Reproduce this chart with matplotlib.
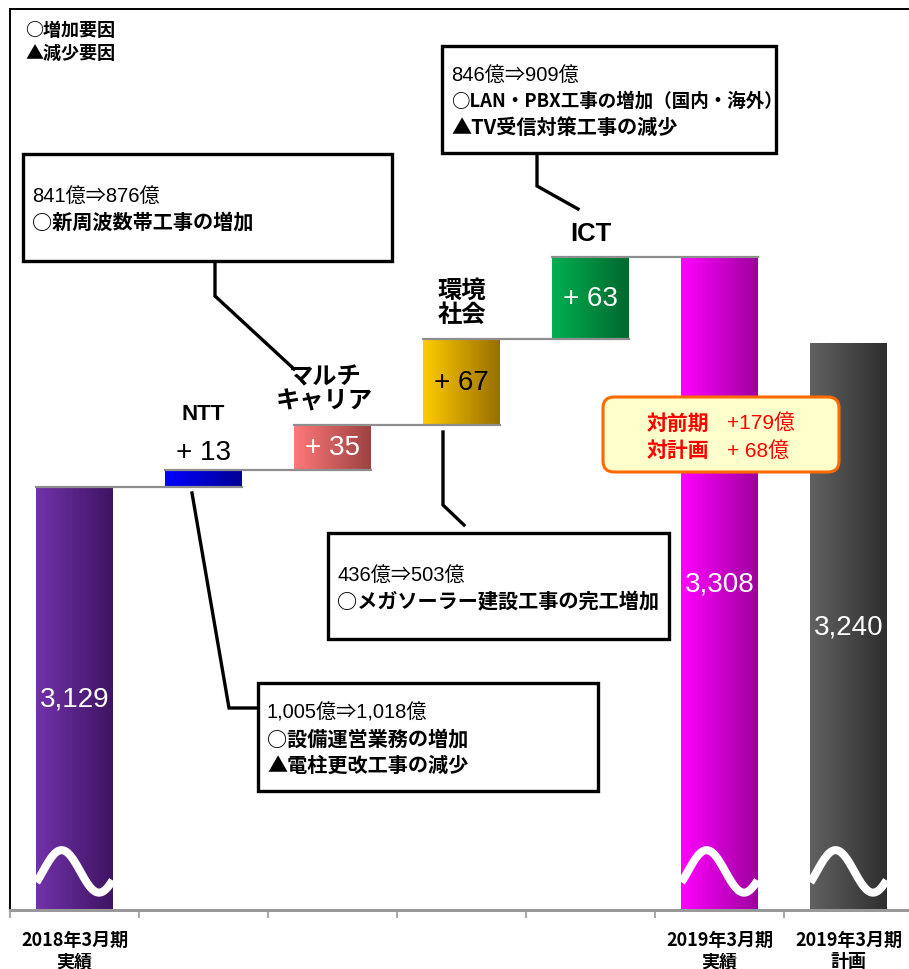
import numpy as np
import matplotlib
matplotlib.use('Agg')
import matplotlib.pyplot as plt
from matplotlib.colors import LinearSegmentedColormap
from matplotlib.patches import Rectangle, FancyBboxPatch
from matplotlib.transforms import blended_transform_factory

plt.rcParams['font.family'] = ['Noto Sans CJK JP', 'DejaVu Sans']

# 売上高の増減（億円）
start_label = ['2018年3月期', '実績']
result_label = ['2019年3月期', '実績']
plan_label = ['2019年3月期', '計画']
start_total = 3129
segment_names = ['NTT', 'マルチ\nキャリア', '環境\n社会', 'ICT']
segment_deltas = [13, 35, 67, 63]
result_total = 3308
plan_total = 3240
axis_floor = 2800
axis_ceiling = 3500

# 対前期・対計画
vs_prior = '+179億'
vs_plan = '+ 68億'

# セグメント別の説明
note_ntt = ['1,005億⇒1,018億', '○設備運営業務の増加', '▲電柱更改工事の減少']
note_multi = ['841億⇒876億', '○新周波数帯工事の増加']
note_env = ['436億⇒503億', '○メガソーラー建設工事の完工増加']
note_ict = ['846億⇒909億', '○LAN・PBX工事の増加（国内・海外）', '▲TV受信対策工事の減少']

# colours: (left, right) of the horizontal gradient
total_colors = [('#7232AA', '#3E1462'), ('#FF00FF', '#9E009E'), ('#616161', '#2E2E2E')]
segment_colors = [('#0000FF', '#000094'), ('#FF7878', '#9C4242'),
                  ('#FFCC00', '#986E00'), ('#00B050', '#00682E')]
segment_text_colors = ['black', 'white', 'black', 'white']
name_sizes = [16, 17.5, 17.5, 18.5]
name_shift = [0, -0.06, 0.0, 0]

BAR_W = 0.59
LATIN = ['Liberation Sans', 'Noto Sans CJK JP']
CJK = ['Noto Sans CJK JP', 'DejaVu Sans']

fig = plt.figure(figsize=(9.09, 9.70), dpi=100)
ax = fig.add_axes([10 / 909, 59 / 970, 903 / 909, 901 / 970])


def gradient_bar(x, y0, y1, colors):
    cmap = LinearSegmentedColormap.from_list('bar', list(colors))
    ax.imshow(np.linspace(0, 1, 256)[None, :], cmap=cmap, aspect='auto',
              interpolation='bilinear', zorder=2,
              extent=(x - BAR_W / 2, x + BAR_W / 2, y0, y1))


def break_mark(x):
    # white wave drawn across the truncated bottom of a total bar
    dx = np.linspace(-BAR_W / 2, BAR_W / 2, 120)
    wy = axis_floor + 30 + 16.5 * np.cos(2 * np.pi * (dx + 0.1) / 0.58)
    ax.plot(x + dx, wy, color='white', lw=5.8, solid_capstyle='butt', zorder=4)


# waterfall levels
levels = np.concatenate([[start_total], start_total + np.cumsum(segment_deltas)])

# totals
totals = [(0, start_total), (5, result_total), (6, plan_total)]
for (x, v), cols in zip(totals, total_colors):
    gradient_bar(x, axis_floor, v, cols)
    break_mark(x)
    ax.text(x, (axis_floor + v) / 2, f'{v:,}', color='white', fontsize=20,
            family=LATIN, ha='center', va='center', zorder=5)

# floating segments
for i, (name, d) in enumerate(zip(segment_names, segment_deltas)):
    x = i + 1
    y0, y1 = levels[i], levels[i + 1]
    gradient_bar(x, y0, y1, segment_colors[i])
    label = f'+ {d}'
    if d < 20:
        ax.text(x, y1 + 14, label, color='black', fontsize=20, family=LATIN,
                ha='center', va='center', zorder=5)
        name_gap = 33
    else:
        ax.text(x, (y0 + y1) / 2, label, color=segment_text_colors[i],
                fontsize=20, family=LATIN, ha='center', va='center', zorder=5)
        name_gap = 9
    fam = LATIN if name.isascii() else CJK
    ax.annotate(name, (x + name_shift[i], y1), xytext=(0, name_gap),
                textcoords='offset points', ha='center', va='bottom',
                fontsize=name_sizes[i], fontweight='bold', family=fam,
                linespacing=1.0, zorder=5)

# grey step connectors
for i in range(len(levels)):
    ax.plot([i - BAR_W / 2, i + 1 + BAR_W / 2], [levels[i]] * 2,
            color='#8e8e8e', lw=1.6, zorder=6)

ax.set_xlim(-0.5, 6.5)
ax.set_ylim(axis_floor, axis_ceiling)
ax.set_yticks([])
ax.set_xticks(np.arange(-0.5, 7, 1.0))
ax.set_xticklabels([])
ax.tick_params(axis='x', which='major', length=6, width=1.2, color='#999999')
for side in ['left', 'top', 'right']:
    ax.spines[side].set_color('black')
    ax.spines[side].set_linewidth(1.4)
ax.spines['bottom'].set_color('#999999')
ax.spines['bottom'].set_linewidth(2.2)

# overlay in pixel units for callouts
ov = fig.add_axes([0, 0, 1, 1])
ov.set_xlim(0, 909)
ov.set_ylim(970, 0)
ov.axis('off')

# category labels under the total bars
under = blended_transform_factory(ax.transData, ov.transData)
for x, lines in zip([0, 5, 6], [start_label, result_label, plan_label]):
    for k, line in enumerate(lines):
        ov.text(x, 940 + 22 * k, line, transform=under, ha='center', va='center',
                fontsize=13, fontweight='bold', family=CJK)

ov.text(25, 31, '○増加要因', fontsize=13, fontweight='bold', va='center', family=CJK)
ov.text(25, 53, '▲減少要因', fontsize=13, fontweight='bold', va='center', family=CJK)


def note_box(x0, y0, x1, y1, lines, sizes):
    ov.add_patch(Rectangle((x0, y0), x1 - x0, y1 - y0, facecolor='white',
                           edgecolor='black', lw=2.4, zorder=3))
    step = 26
    yc = (y0 + y1) / 2 - step * (len(lines) - 1) / 2 + 1
    for k, (line, size) in enumerate(zip(lines, sizes)):
        if k == 0:
            ov.text(x0 + 9, yc + k * step, line, fontsize=size, family=LATIN,
                    va='center', zorder=4)
        else:
            ov.text(x0 + 9, yc + k * step, line, fontsize=size, fontweight='bold',
                    family=CJK, va='center', zorder=4)


def leader(xs, ys):
    ov.plot(xs, ys, color='black', lw=2.4, solid_joinstyle='miter', zorder=2)


note_box(23, 155, 392, 262, note_multi, [14.5, 14.5])
leader([215, 215, 294], [262, 297, 370])

note_box(442, 47, 776, 154, note_ict, [14.5, 13.3, 14.5])
leader([537, 537, 578], [154, 187, 210])

note_box(328, 534, 669, 640, note_env, [14.5, 14.5])
leader([443, 443, 464], [433, 506, 526])

note_box(258, 684, 598, 792, note_ntt, [14.5, 14.5, 14.5])
leader([192, 229, 258], [494, 709, 709])

# 対前期・対計画 summary
ov.add_patch(FancyBboxPatch((603, 398), 236, 75,
                            boxstyle='round,pad=0,rounding_size=11',
                            facecolor='#FFFFCC', edgecolor='#FF6A00', lw=2.2, zorder=3))
for k, (head, val) in enumerate([('対前期', vs_prior), ('対計画', vs_plan)]):
    yy = 423 + k * 28
    ov.text(647, yy, head, color='#FF0000', fontsize=15, fontweight='bold',
            family=CJK, va='center', zorder=4)
    ov.text(727, yy, val, color='#FF0000', fontsize=15, family=LATIN,
            va='center', zorder=4)

fig.savefig('out.png', dpi=100)
